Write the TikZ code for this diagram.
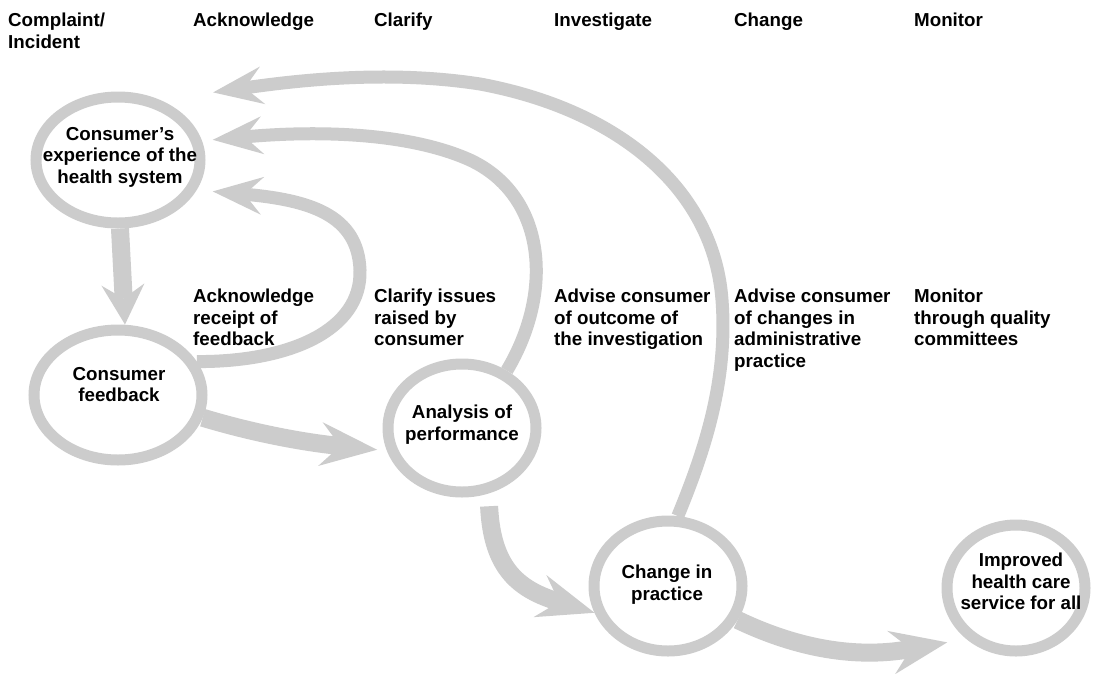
\documentclass[tikz,border=0pt]{standalone}
\usepackage{fontspec}
\setmainfont{Liberation Sans}
\usetikzlibrary{shapes.geometric,arrows.meta}
\definecolor{gr}{RGB}{204,204,204}
\newcommand{\lblfont}{\fontsize{18.75pt}{21.6pt}\selectfont\bfseries}
\begin{document}
\begin{tikzpicture}[x=1pt,y=-1pt,
  ring/.style={ellipse,draw=gr,line width=11pt,inner sep=0pt},
  flow/.style={draw=gr,line width=#1},
  lbl/.style={font=\lblfont,align=left,anchor=north west,inner sep=0pt},
  etext/.style={font=\lblfont,align=center,anchor=north,inner sep=0pt},
  headS/.style={-{Stealth[length=50pt,width=38pt,inset=18pt,line width=0pt]}},
  headA/.style={-{Stealth[length=40pt,width=43pt,inset=14pt,line width=0pt]}},
  headB/.style={-{Stealth[length=57pt,width=44pt,inset=20pt,line width=0pt]}}]
\useasboundingbox[fill=white] (0,0) rectangle (1093,673);
% headers
\node[lbl] (h1) at (8,13) {Complaint/\\Incident};
\node[lbl] (h2) at (193,13) {Acknowledge};
\node[lbl] (h3) at (374,13) {Clarify};
\node[lbl] (h4) at (554,13) {Investigate};
\node[lbl] (h5) at (734,13) {Change};
\node[lbl] (h6) at (914,13) {Monitor};
% middle labels
\node[lbl] (m2) at (193,289) {Acknowledge\\receipt of\\feedback};
\node[lbl] (m3) at (374,289) {Clarify issues\\raised by\\consumer};
\node[lbl] (m4) at (554,289) {Advise consumer\\of outcome of\\the investigation};
\node[lbl] (m5) at (734,289) {Advise consumer\\of changes in\\administrative\\practice};
\node[lbl] (m6) at (914,289) {Monitor\\through quality\\committees};
% ellipses
\node[ring,minimum width=164pt,minimum height=126pt] (e1) at (118,160) {};
\node[ring,minimum width=168pt,minimum height=130pt] (e2) at (118,395) {};
\node[ring,minimum width=148pt,minimum height=128pt] (e3) at (462,428) {};
\node[ring,minimum width=148pt,minimum height=130pt] (e4) at (668,586) {};
\node[ring,minimum width=138pt,minimum height=126pt] (e5) at (1016,588) {};
% ellipse texts
\node[etext] (t1) at (120,127) {Consumer’s\\experience of the\\health system};
\node[etext] (t2) at (119,367) {Consumer\\feedback};
\node[etext] (t3) at (462,405) {Analysis of\\performance};
\node[etext] (t4) at (667,565) {Change in\\practice};
\node[etext] (t5) at (1021,553) {Improved\\health care\\service for all};
% connectors
\draw[flow=18pt,headA] ([xshift=2pt]e1.south) -- ([xshift=7pt]e2.north);
\draw[flow=18pt,headB] (e2.-15) .. controls (250,432) and (300,442) .. ([shift={(-7pt,-8pt)}]e3.190);
\draw[flow=18pt,headB] ([shift={(3pt,-12pt)}]e3.-70) .. controls (492,570) and (520,590) .. (e4.200);
\draw[flow=18pt,headB] (e4.-26) .. controls (790,645) and (850,660) .. ([shift={(-12pt,-10pt)}]e5.218);
\draw[flow=13pt,headS] (e2.23) .. controls (290,362) and (362,330) .. (360,270)
  .. controls (358,215) and (310,200) .. ([xshift=17pt]e1.-22);
\draw[flow=13pt,headS] (e3.52) .. controls (555,290) and (545,195) .. (470,160)
  .. controls (410,133) and (320,130) .. ([shift={(12pt,-2pt)}]e1.15);
\draw[flow=13pt,headS] (e4.82) .. controls (705,450) and (728,380) .. (722,300)
  .. controls (714,190) and (620,110) .. (480,84)
  .. controls (390,70) and (300,80) .. ([shift={(31pt,21pt)}]e1.36);
\end{tikzpicture}
\end{document}
